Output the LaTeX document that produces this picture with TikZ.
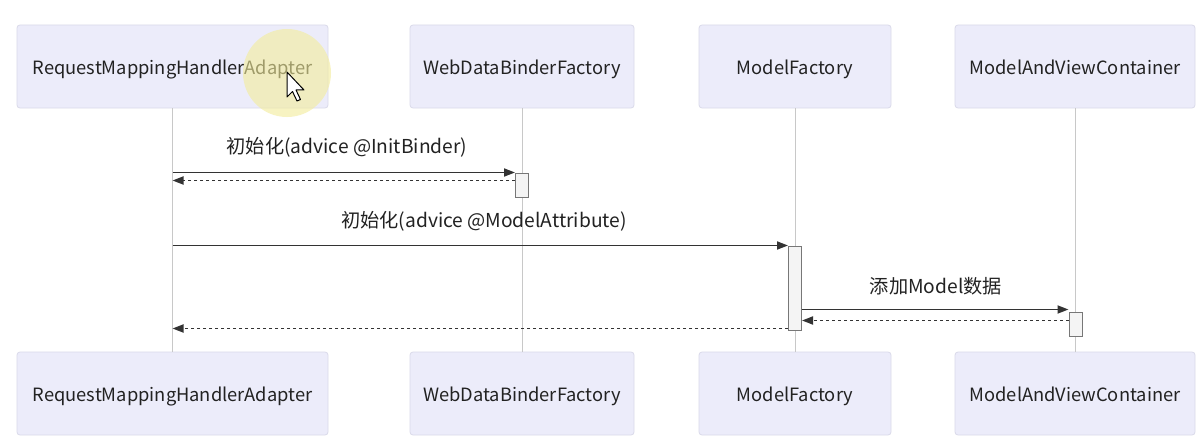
\documentclass[tikz,border=0pt]{standalone}
\usepackage{fontspec}
\setmainfont{Noto Sans CJK SC}
\usetikzlibrary{arrows.meta,calc}
\definecolor{boxfill}{HTML}{ECECFA}
\definecolor{boxline}{HTML}{DADAEA}
\definecolor{lifecol}{HTML}{C8C8C8}
\definecolor{msgcol}{HTML}{333333}
\definecolor{actfill}{HTML}{F4F4F4}
\definecolor{actline}{HTML}{777777}
\definecolor{hilite}{HTML}{F3EC9A}
\definecolor{txt}{HTML}{222222}
\tikzset{
  actor/.style={draw=boxline, fill=boxfill, rounded corners=3pt, line width=0.8pt,
    minimum height=83pt, inner sep=0pt, text height=19pt, text depth=2.6pt,
    font=\fontsize{18.3}{21}\selectfont, text=txt},
  life/.style={draw=lifecol, line width=1pt},
  actbox/.style={draw=actline, fill=actfill, line width=1pt, inner sep=0pt, minimum width=13pt},
  msg/.style={draw=msgcol, line width=1.8pt, -{Triangle[length=11pt,width=8pt]}},
  ret/.style={draw=msgcol, line width=1.8pt, dash pattern=on 3pt off 3pt, -{Triangle[length=11pt,width=8pt]}},
  lbl/.style={font=\fontsize{19.2}{22}\selectfont, text=txt, inner sep=0pt}
}
\begin{document}
\begin{tikzpicture}[x=1pt,y=-1pt]
\useasboundingbox[fill=white] (0,0) rectangle (1200,444);
% actors top
\node[actor, minimum width=311pt] (a1) at (172.5,66.5) {RequestMappingHandlerAdapter};
\node[actor, minimum width=224pt] (a2) at (522,66.5) {WebDataBinderFactory};
\node[actor, minimum width=192pt] (a3) at (795,66.5) {ModelFactory};
\node[actor, minimum width=240pt] (a4) at (1075,66.5) {ModelAndViewContainer};
% actors bottom
\node[actor, minimum width=311pt] (b1) at (172.5,393.5) {RequestMappingHandlerAdapter};
\node[actor, minimum width=224pt] (b2) at (522,393.5) {WebDataBinderFactory};
\node[actor, minimum width=192pt] (b3) at (795,393.5) {ModelFactory};
\node[actor, minimum width=240pt] (b4) at (1075,393.5) {ModelAndViewContainer};
% lifelines
\draw[life] (a1.south) -- (b1.north);
\draw[life] (a2.south) -- (b2.north);
\draw[life] (a3.south) -- (b3.north);
\draw[life] (a4.south) -- (b4.north);
% activations
\node[actbox, minimum height=24pt] (v2) at (522,185) {};
\node[actbox, minimum height=84pt] (v3) at (795,288) {};
\node[actbox, minimum height=24pt] (v4) at (1075.5,324) {};
% message labels
\node[lbl] (m1) at (347,147) {初始化(advice @InitBinder)};
\node[lbl] (m2) at (484,221) {初始化(advice @ModelAttribute)};
\node[lbl] (m3) at (936,286) {添加Model数据};
% anchor points for messages
\coordinate (r1) at ([yshift=-8pt]v2.north west);
\coordinate (s3) at ([yshift=-64pt]v3.north east);
\coordinate (r2) at ([yshift=-9pt]v4.north west);
\coordinate (r3) at ([yshift=2pt]v3.south west);
% messages
\draw[msg] (a1.south |- v2.north west) -- (v2.north west);
\draw[ret] (r1) -- (a1.south |- r1);
\draw[msg] (a1.south |- v3.north west) -- (v3.north west);
\draw[msg] (s3) -- (v4.north west |- s3);
\draw[ret] (r2) -- (v3.east |- r2);
\draw[ret] (r3) -- (a1.south |- r3);
% cursor highlight
\fill[hilite, opacity=0.6] (287,73) circle (44pt);
\draw[black, line width=1pt, fill=white, line join=round]
  (287,72) -- (287,97) -- (292.5,91.5) -- (297,101) -- (300.5,99.5) -- (296,90) -- (304,90) -- cycle;
\end{tikzpicture}
\end{document}
